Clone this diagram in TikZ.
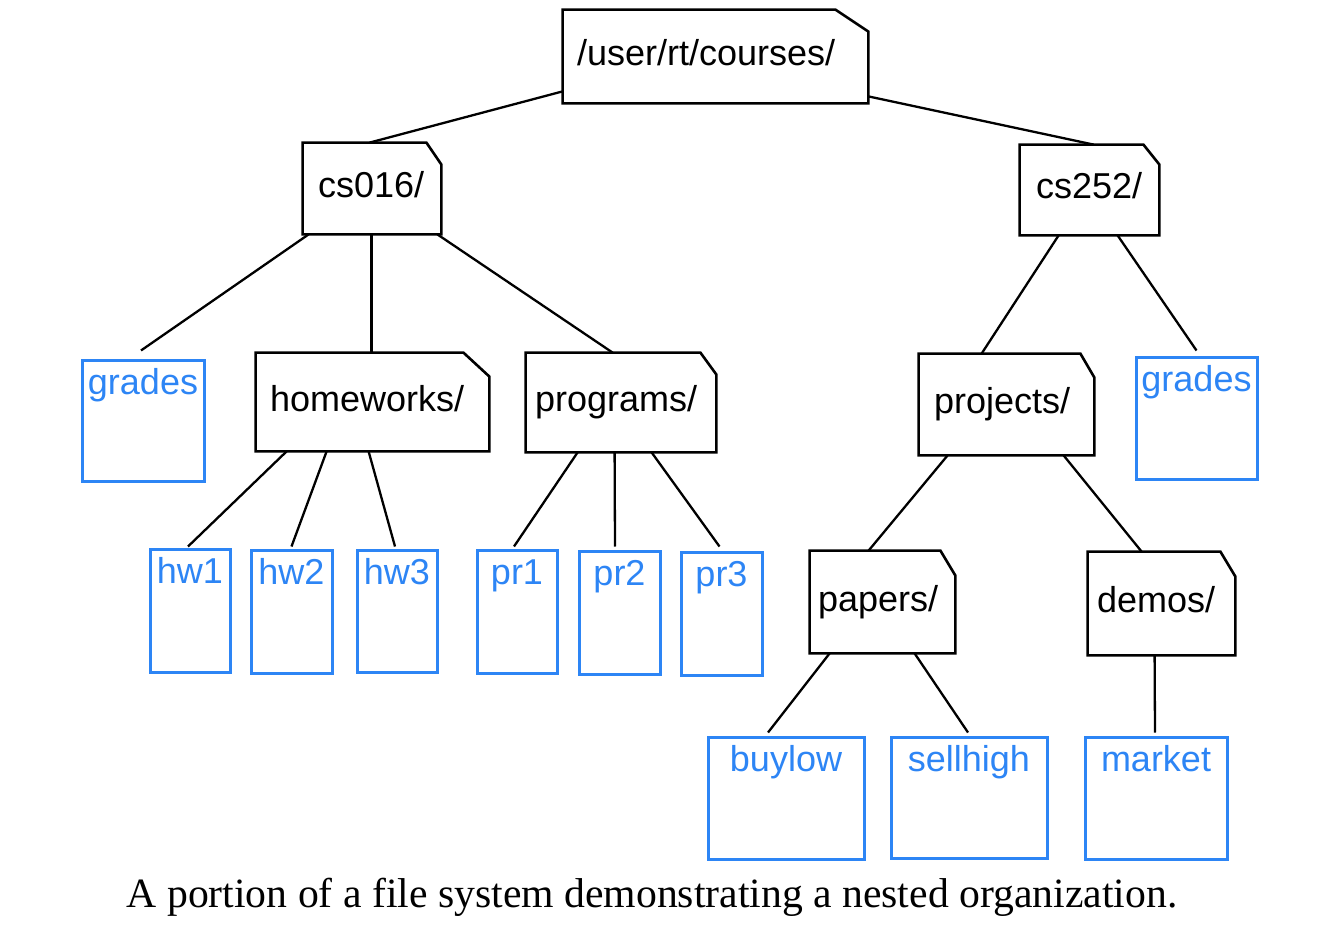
\documentclass[tikz,border=0pt]{standalone}
\usepackage{fontspec}
\newfontfamily\labelfont{Liberation Sans}
\newfontfamily\capfont{Liberation Serif}
\usetikzlibrary{calc}
\definecolor{fileblue}{RGB}{45,133,245}
\newdimen\pxu \pxu=0.5pt
\tikzset{
  folderbox/.style={inner sep=0pt, font=\labelfont\fontsize{18}{20}\selectfont, text height=13.5pt, text depth=4.5pt},
  folderline/.style={draw=black, line width=1.3pt, line join=miter},
  filebox/.style={draw=fileblue, line width=1.5pt, inner sep=0pt, text=fileblue, font=\labelfont\fontsize{18}{20}\selectfont},
  link/.style={draw=black, line width=1.15pt},
  captionstyle/.style={font=\capfont\fontsize{20.85}{24}\selectfont, inner sep=0pt, anchor=base},
}
% name, x1, y1, x2, y2, cut x, cut y, left pad, text
\newcommand\mkfolder[9]{%
  \pgfmathsetlengthmacro\fw{(#4-#2)*0.5pt}%
  \pgfmathsetlengthmacro\fh{(#5-#3)*0.5pt}%
  \node[folderbox, minimum width=\fw, minimum height=\fh] (#1) at ({(#2+#4)/2},{(#3+#5)/2}) {\makebox[\fw][l]{\hspace*{#8\pxu}#9}};
  \draw[folderline] (#1.south west) -- (#1.north west) -- ([xshift=-#6\pxu]#1.north east) -- ([yshift=-#7\pxu]#1.north east) -- (#1.south east) -- cycle;
}
% name, x1, y1, x2, y2, text
\newcommand\mkfile[6]{%
  \pgfmathsetlengthmacro\fw{(#4-#2)*0.5pt}%
  \pgfmathsetlengthmacro\fh{(#5-#3)*0.5pt}%
  \pgfmathsetlengthmacro\fd{(#5-#3-68)*0.5pt}%
  \node[filebox, minimum width=\fw, minimum height=\fh, text height=0pt, text depth=\fd] (#1) at ({(#2+#4)/2},{(#3+#5)/2}) {#6};
}
\begin{document}
\begin{tikzpicture}[x=0.5pt, y=-0.5pt]
\useasboundingbox (0,0) rectangle (1328,952);

\mkfolder{root}{563}{10}{868}{103}{33}{22}{14}{/user/rt/courses/}
\mkfolder{cs016}{303}{143}{441}{234}{15}{22}{15}{cs016/}
\mkfolder{cs252}{1020}{145}{1159}{235}{16}{20}{16}{cs252/}
\mkfolder{homeworks}{256}{353}{489}{451}{26}{24}{14}{homeworks/}
\mkfolder{programs}{526}{353}{716}{452}{16}{22}{9}{programs/}
\mkfolder{projects}{919}{354}{1094}{455}{14}{24}{15}{projects/}
\mkfolder{papers}{810}{551}{955}{653}{15}{25}{8}{papers/}
\mkfolder{demos}{1088}{552}{1235}{655}{15}{25}{9}{demos/}

\mkfile{gradesA}{82}{360}{204}{481}{grades}
\mkfile{hw1}{150}{549}{230}{672}{hw1}
\mkfile{hw2}{251}{550}{332}{673}{hw2}
\mkfile{hw3}{357}{550}{437}{672}{hw3}
\mkfile{pr1}{477}{550}{557}{673}{pr1}
\mkfile{pr2}{579}{551}{660}{674}{pr2}
\mkfile{pr3}{681}{552}{762}{675}{pr3}
\mkfile{gradesB}{1136}{357}{1257}{479}{grades}
\mkfile{buylow}{708}{737}{864}{859}{buylow}
\mkfile{sellhigh}{891}{737}{1047}{858}{sellhigh}
\mkfile{market}{1085}{737}{1227}{859}{market}

\draw[link] ($(root.south west)+(0,-12)$) -- ($(cs016.north west)+(67,0)$);
\draw[link] ($(root.south east)+(0,-7)$) -- ($(cs252.north west)+(74,0)$);
\draw[link] ($(cs016.south west)+(6,0)$) -- ($(gradesA.north)+(-2,-8)$);
\draw[link] ($(cs016.south west)+(69,0)$) -- ($(homeworks.north west)+(116,0)$);
\draw[link] ($(cs016.south east)+(-4,0)$) -- ($(programs.north west)+(87,0)$);
\draw[link] ($(cs252.south west)+(39,0)$) -- ($(projects.north west)+(63,0)$);
\draw[link] ($(cs252.south west)+(98,0)$) -- ($(gradesB.north)+(0,-5)$);
\draw[link] ($(homeworks.south west)+(31,0)$) -- ($(hw1.north)+(-2,-1)$);
\draw[link] ($(homeworks.south west)+(71,0)$) -- ($(hw2.north)+(0,-2)$);
\draw[link] ($(homeworks.south west)+(113,0)$) -- ($(hw3.north)+(-2,-2)$);
\draw[link] ($(programs.south west)+(52,0)$) -- ($(pr1.north)+(-3,-2)$);
\draw[link] ($(programs.south west)+(89,0)$) -- ($(pr2.north)+(-4.5,-3)$);
\draw[link] ($(programs.south west)+(126,0)$) -- ($(pr3.north)+(-2,-4)$);
\draw[link] ($(projects.south west)+(29,0)$) -- ($(papers.north west)+(59,0)$);
\draw[link] ($(projects.south west)+(145,0)$) -- ($(demos.north west)+(54,0)$);
\draw[link] ($(papers.south west)+(20,0)$) -- ($(buylow.north)+(-18,-3)$);
\draw[link] ($(papers.south west)+(105,0)$) -- ($(sellhigh.north)+(-1,-3)$);
\draw[link] ($(demos.south west)+(67,0)$) -- ($(market.north)+(-1,-3)$);

\node[captionstyle] (caption) at (652,907) {A portion of a file system demonstrating a nested organization.};
\end{tikzpicture}
\end{document}
